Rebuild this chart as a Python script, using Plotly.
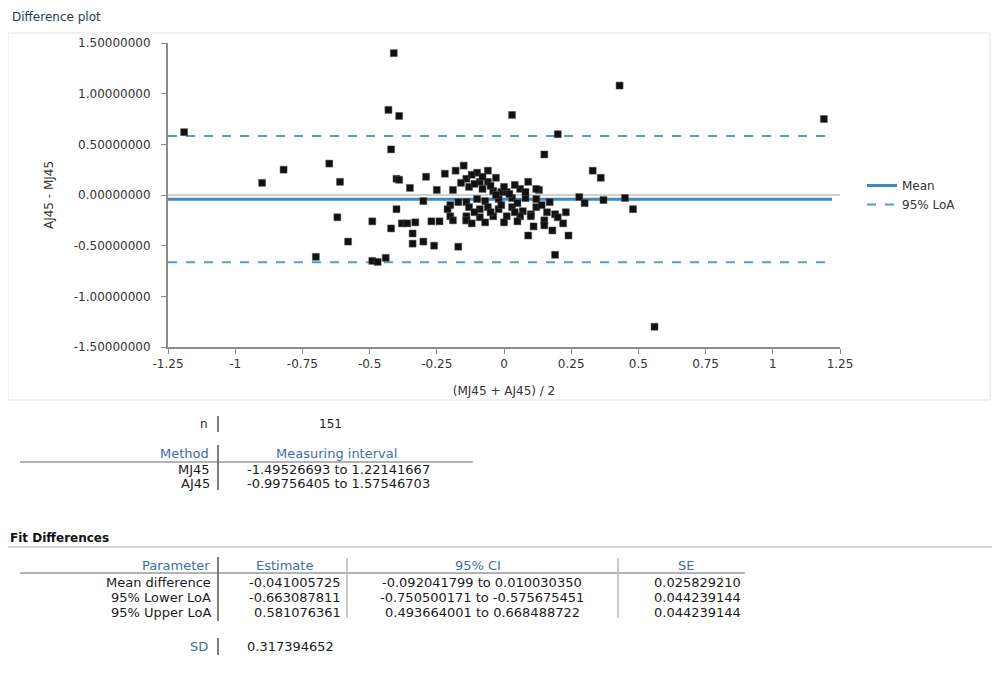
import plotly.graph_objects as go

# ---------------- data ----------------
avg = [-1.19, -0.90, -0.82, -0.65, -0.61, -0.62, -0.58, -0.70, -0.49, -0.47, -0.44, -0.49,
       -0.41, -0.43, -0.39, -0.42, -0.40, -0.39, -0.35, -0.40, -0.38, -0.36, -0.42, -0.34,
       -0.34, -0.30, -0.26, -0.17, -0.30, -0.29, -0.25, -0.19, -0.15, -0.27, -0.24, -0.20,
       -0.14, -0.17, -0.22, -0.18, -0.06, -0.10, -0.14, -0.09, -0.06, -0.13, -0.08, -0.04,
       -0.01, 0.01, 0.06, 0.09, 0.13, -0.14, -0.10, -0.07, -0.02, 0.03, 0.08, 0.12,
       0.17, -0.13, -0.09, -0.06, -0.02, 0.03, 0.07, 0.10, 0.16, 0.19, -0.14, -0.09,
       -0.04, 0.01, 0.06, 0.10, 0.15, 0.20, 0.23, -0.19, -0.14, 0.15, 0.09, 0.18,
       0.24, 0.19, 0.12, 0.15, 0.03, 0.43, 1.19, 0.20, 0.33, 0.36, 0.28, 0.30,
       0.37, 0.45, 0.48, 0.56, -0.12, -0.11, -0.05, -0.03, 0.02, 0.05, -0.11, -0.05,
       0.04, -0.01, 0.00, -0.16, -0.20, -0.12, -0.07, 0.00, 0.05, 0.12, 0.14, 0.08,
       -0.03, -0.08, 0.22, 0.11, -0.21, -0.33, 0.04]
diff = [0.62, 0.12, 0.25, 0.31, 0.13, -0.22, -0.46, -0.61, -0.65, -0.66, -0.62, -0.26,
        1.40, 0.84, 0.78, 0.45, 0.16, 0.15, 0.07, -0.14, -0.28, -0.28, -0.33, -0.38,
        -0.48, -0.46, -0.50, -0.51, -0.06, 0.18, 0.05, 0.05, 0.29, -0.26, -0.26, -0.21,
        -0.25, -0.07, 0.21, 0.24, 0.24, 0.22, 0.16, 0.13, 0.13, 0.08, 0.06, 0.04,
        0.03, 0.03, 0.06, 0.13, 0.05, -0.07, -0.04, -0.06, -0.04, -0.03, -0.03, -0.04,
        -0.07, -0.12, -0.14, -0.12, -0.14, -0.12, -0.16, -0.19, -0.17, -0.19, -0.21, -0.22,
        -0.21, -0.21, -0.21, -0.21, -0.25, -0.22, -0.17, -0.25, -0.25, -0.30, -0.40, -0.35,
        -0.40, -0.59, 0.06, 0.40, 0.79, 1.08, 0.75, 0.60, 0.24, 0.17, -0.02, -0.08,
        -0.05, -0.03, -0.14, -1.30, 0.20, 0.11, 0.09, 0.00, 0.01, -0.08, -0.17, -0.17,
        -0.17, -0.10, 0.08, 0.12, -0.10, -0.28, -0.27, -0.27, -0.26, -0.12, -0.10, 0.03,
        0.17, 0.18, -0.28, -0.31, -0.14, -0.27, 0.10]

mean_diff = -0.041005725
lower_loa = -0.663087811
upper_loa = 0.581076361
line_x = [-1.25, 1.22]

x_ticks = [-1.25, -1, -0.75, -0.5, -0.25, 0, 0.25, 0.5, 0.75, 1, 1.25]
x_ticklabels = ["-1.25", "-1", "-0.75", "-0.5", "-0.25", "0", "0.25", "0.5", "0.75", "1", "1.25"]
y_ticks = [1.5, 1.0, 0.5, 0.0, -0.5, -1.0, -1.5]
y_ticklabels = ["1.50000000", "1.00000000", "0.50000000", "0.00000000",
                "-0.50000000", "-1.00000000", "-1.50000000"]

n_value = "151"
methods = ["MJ45", "AJ45"]
intervals = ["-1.49526693 to 1.22141667", "-0.99756405 to 1.57546703"]

params = ["Mean difference", "95% Lower LoA", "95% Upper LoA"]
estimates = ["-0.041005725", "-0.663087811", "0.581076361"]
cis = ["-0.092041799 to 0.010030350", "-0.750500171 to -0.575675451",
       "0.493664001 to 0.668488722"]
ses = ["0.025829210", "0.044239144", "0.044239144"]
sd_value = "0.317394652"

# ---------------- geometry (page has an 8px body margin) ----------------
OFF = 8
FIG_W, FIG_H = 1000 - OFF, 680 - OFF
X0S, X1S, Y0S, Y1S = 168, 840, 43, 347   # plot area in screen pixels
L = X0S - OFF
T = Y0S - OFF
PW, PH = X1S - X0S, Y1S - Y0S
R = FIG_W - L - PW
B = FIG_H - T - PH


def px(x):
    return (x - X0S) / PW


def py(y):
    return (Y1S - y) / PH


FONT = "DejaVu Sans"
BLUE_TXT = "#3b6fa6"
DARK = "#1a1a1a"
MEAN_C = "#3a8ac4"
LOA_C = "#4aa0cf"
TS = 13  # table font size

fig = go.Figure()

fig.add_trace(go.Scatter(x=[-1.25, 1.25], y=[0, 0], mode="lines",
                         line=dict(color="#d0d0d0", width=2), showlegend=False,
                         hoverinfo="skip"))
fig.add_trace(go.Scatter(x=line_x, y=[mean_diff, mean_diff], mode="lines",
                         line=dict(color=MEAN_C, width=3), name="Mean"))
fig.add_trace(go.Scatter(x=line_x, y=[upper_loa, upper_loa], mode="lines",
                         line=dict(color=LOA_C, width=2, dash="dash"), name="95% LoA",
                         legendgroup="loa"))
fig.add_trace(go.Scatter(x=line_x, y=[lower_loa, lower_loa], mode="lines",
                         line=dict(color=LOA_C, width=2, dash="dash"), name="95% LoA",
                         legendgroup="loa", showlegend=False))
fig.add_trace(go.Scatter(x=avg, y=diff, mode="markers",
                         marker=dict(symbol="square", size=7, color="#111111",
                                     line=dict(color="#555555", width=0.5)),
                         showlegend=False))

ann = []
shapes = []

ann.append(dict(text="Difference plot", x=px(10), y=py(17), xref="paper", yref="paper",
                xanchor="left", yanchor="middle", showarrow=False,
                font=dict(family=FONT, size=12, color="#24404f")))
shapes.append(dict(type="rect", xref="paper", yref="paper", x0=px(8), x1=px(990),
                   y0=py(33), y1=py(400), line=dict(color="#e2e2e2", width=1)))


def text(t, x, y, anchor="left", color=DARK, size=TS, bold=False):
    ann.append(dict(text=("<b>%s</b>" % t) if bold else t, x=px(x), y=py(y),
                    xref="paper", yref="paper", xanchor=anchor, yanchor="middle",
                    showarrow=False, font=dict(family=FONT, size=size, color=color)))


def hline(x0, x1, y, color="#9a9a9a", width=1.5):
    shapes.append(dict(type="line", xref="paper", yref="paper", x0=px(x0), x1=px(x1),
                       y0=py(y), y1=py(y), line=dict(color=color, width=width)))


def vline(x, y0, y1, color="#555555", width=1.5):
    shapes.append(dict(type="line", xref="paper", yref="paper", x0=px(x), x1=px(x),
                       y0=py(y0), y1=py(y1), line=dict(color=color, width=width)))


# n row
text("n", 210, 424, "right", DARK, 12)
vline(218, 416, 432)
text(n_value, 330, 424, "center", DARK, 12)

# Method table
text("Method", 211, 453, "right", BLUE_TXT)
text("Measuring interval", 336, 453, "center", BLUE_TXT)
hline(20, 473, 462)
vline(218, 445, 490)
for i, (m, iv) in enumerate(zip(methods, intervals)):
    yy = 469 + i * 14
    text(m, 212, yy, "right", DARK)
    text(iv, 245, yy, "left", DARK)

# Fit Differences
text("Fit Differences", 8, 538, "left", "#111111", 12, bold=True)
hline(8, 995, 547, color="#d4d4d4", width=2)

text("Parameter", 212, 565, "right", BLUE_TXT)
text("Estimate", 284, 565, "center", BLUE_TXT)
text("95% CI", 478, 565, "center", BLUE_TXT)
text("SE", 686, 565, "center", BLUE_TXT)
hline(20, 745, 573)
vline(218, 557, 621)
vline(347, 558, 618, color="#bbbbbb")
vline(618, 558, 618, color="#bbbbbb")
for i in range(3):
    yy = 582 + i * 15
    text(params[i], 213, yy, "right", DARK)
    text(estimates[i], 343, yy, "right", DARK)
    text(cis[i], 482, yy, "center", DARK)
    text(ses[i], 743, yy, "right", DARK)

text("SD", 210, 646, "right", BLUE_TXT)
vline(218, 638, 655)
text(sd_value, 245, 646, "left", DARK)

fig.update_layout(
    width=FIG_W, height=FIG_H,
    margin=dict(l=L, r=R, t=T, b=B, pad=0),
    paper_bgcolor="white", plot_bgcolor="white",
    font=dict(family=FONT, size=11, color="#333333"),
    showlegend=True,
    legend=dict(x=px(862), y=py(171), xref="paper", yref="paper",
                xanchor="left", yanchor="top", bgcolor="rgba(0,0,0,0)",
                font=dict(family=FONT, size=12, color="#333333"),
                tracegroupgap=0, itemwidth=30),
    annotations=ann,
    shapes=shapes,
)
fig.update_xaxes(range=[-1.25, 1.25], tickvals=x_ticks, ticktext=x_ticklabels,
                 showgrid=False, zeroline=False, showline=True, linecolor="#8a8a8a",
                 linewidth=2, ticks="outside", ticklen=5, tickcolor="#8a8a8a",
                 tickfont=dict(family=FONT, size=12, color="#333333"),
                 title=dict(text="(MJ45 + AJ45) / 2", standoff=16,
                            font=dict(family=FONT, size=12, color="#333333")))
fig.update_yaxes(range=[-1.5, 1.5], tickvals=y_ticks, ticktext=y_ticklabels,
                 showgrid=False, zeroline=False, showline=True, linecolor="#8a8a8a",
                 linewidth=2, ticks="outside", ticklen=5, tickcolor="#8a8a8a",
                 ticklabelstandoff=8,
                 tickfont=dict(family=FONT, size=12, color="#333333"),
                 title=dict(text="AJ45 - MJ45", standoff=18,
                            font=dict(family=FONT, size=12, color="#333333")))

fig.write_html("out.html")
